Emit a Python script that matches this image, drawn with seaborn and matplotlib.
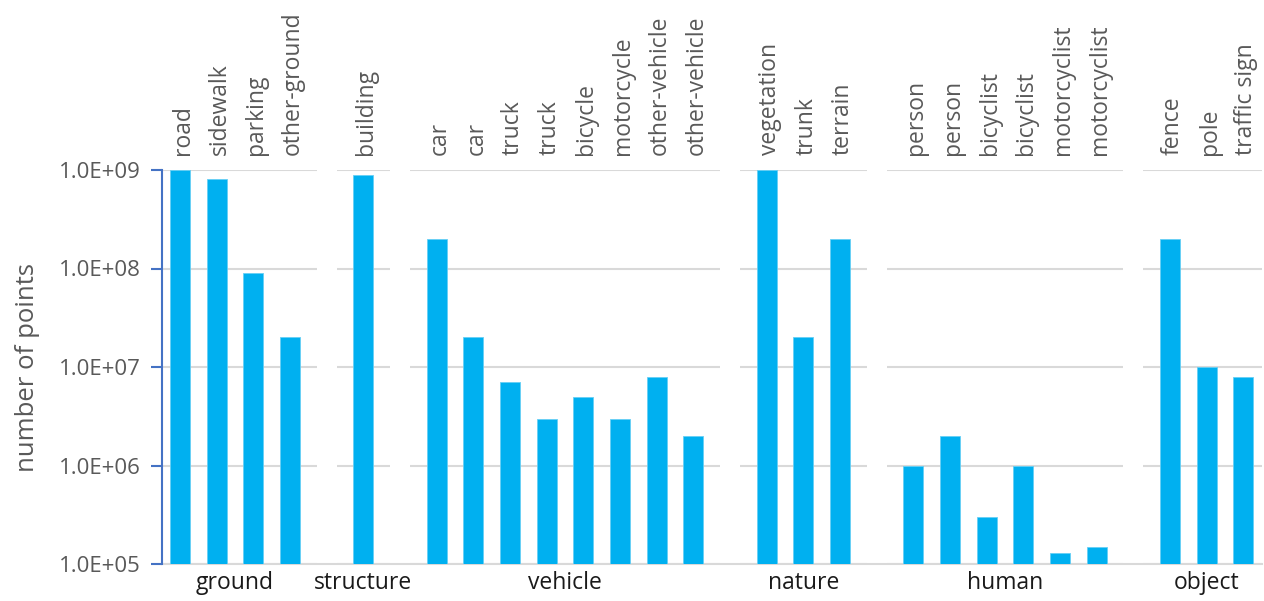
import numpy as np
import pandas as pd
import matplotlib
matplotlib.use("Agg")
import matplotlib.pyplot as plt
import matplotlib.transforms as mtransforms
from matplotlib.ticker import FixedLocator, FuncFormatter, NullLocator
import seaborn as sns

# Point counts per semantic class, grouped by super-category
groups = ["ground", "structure", "vehicle", "nature", "human", "object"]
ground_classes = ["road", "sidewalk", "parking", "other-ground"]
ground_points = [1.0e9, 8.1e8, 9.0e7, 2.0e7]
structure_classes = ["building"]
structure_points = [9.0e8]
vehicle_classes = ["car", "car", "truck", "truck", "bicycle", "motorcycle",
                   "other-vehicle", "other-vehicle"]
vehicle_points = [2.0e8, 2.0e7, 7.0e6, 3.0e6, 5.0e6, 3.0e6, 8.0e6, 2.0e6]
nature_classes = ["vegetation", "trunk", "terrain"]
nature_points = [1.0e9, 2.0e7, 2.0e8]
human_classes = ["person", "person", "bicyclist", "bicyclist",
                 "motorcyclist", "motorcyclist"]
human_points = [1.0e6, 2.0e6, 3.0e5, 1.0e6, 1.3e5, 1.5e5]
object_classes = ["fence", "pole", "traffic sign"]
object_points = [2.0e8, 1.0e7, 8.0e6]

group_classes = [ground_classes, structure_classes, vehicle_classes,
                 nature_classes, human_classes, object_classes]
group_points = [ground_points, structure_points, vehicle_points,
                nature_points, human_points, object_points]

# Lay the classes out on slots, leaving one empty slot between groups
rows = []
gap_slots = []
slot = 0
for g, (names, vals) in enumerate(zip(group_classes, group_points)):
    for name, v in zip(names, vals):
        rows.append({"slot": slot, "group": groups[g], "label": name, "points": v})
        slot += 1
    if g < len(groups) - 1:
        gap_slots.append(slot)
        slot += 1
n_slots = slot
df = pd.DataFrame(rows)

sns.set_theme(style="white")
plt.rcParams["font.family"] = ["Open Sans", "DejaVu Sans"]

W, H = 1264, 601
fig = plt.figure(figsize=(W / 100, H / 100), dpi=100)
ax = fig.add_axes([161.7 / W, 37 / H, 1100 / W, 394 / H])

BAR = "#00B0F0"
sns.barplot(data=df, x="slot", y="points", native_scale=True, width=0.55,
            color=BAR, saturation=1, edgecolor="#66CFF5", linewidth=0.6,
            ax=ax, zorder=3)

ax.set_yscale("log")
ax.set_ylim(1e5, 1e9)
ax.set_xlim(-0.5, n_slots - 0.5)

# Gridlines interrupted at the empty slots between groups
for s in gap_slots:
    ax.axvspan(s - 0.275, s + 0.275, color="white", zorder=2, lw=0)
ax.yaxis.set_major_locator(FixedLocator([1e5, 1e6, 1e7, 1e8, 1e9]))
ax.yaxis.set_minor_locator(NullLocator())
ax.yaxis.set_major_formatter(FuncFormatter(lambda v, p: f"{v:.1E}"))
ax.grid(axis="y", color="#D9D9D9", lw=1.5, zorder=1)
ax.grid(axis="x", visible=False)

for side in ["top", "right"]:
    ax.spines[side].set_visible(False)
ax.spines["bottom"].set_color("#D9D9D9")
ax.spines["bottom"].set_linewidth(1.5)
ax.spines["left"].set_color("#4472C4")
ax.spines["left"].set_linewidth(1.5)
ax.spines["left"].set_zorder(4)

ax.tick_params(axis="y", which="major", left=True, length=8, width=1.5,
               color="#4472C4", labelsize=16, labelcolor="#595959", pad=7)
ax.tick_params(axis="x", bottom=False, labelbottom=False)
ax.set_xlabel("")
ax.set_ylabel("number of points", fontsize=18.5, color="#595959", labelpad=14)

# Class names above each bar
top_tr = mtransforms.blended_transform_factory(ax.transData, ax.transAxes)
for _, r in df.iterrows():
    ax.text(r["slot"] + 0.08, 1.037, r["label"], transform=top_tr, rotation=90,
            ha="center", va="bottom", fontsize=16.5, color="#595959")

# Group names beneath each block of bars
for g in groups:
    sl = df.loc[df["group"] == g, "slot"]
    ax.text((sl.min() + sl.max()) / 2, -0.047, g, transform=top_tr,
            ha="center", va="center", fontsize=16.5, color="#1A1A1A")

fig.savefig("out.png", dpi=100, facecolor="white")
